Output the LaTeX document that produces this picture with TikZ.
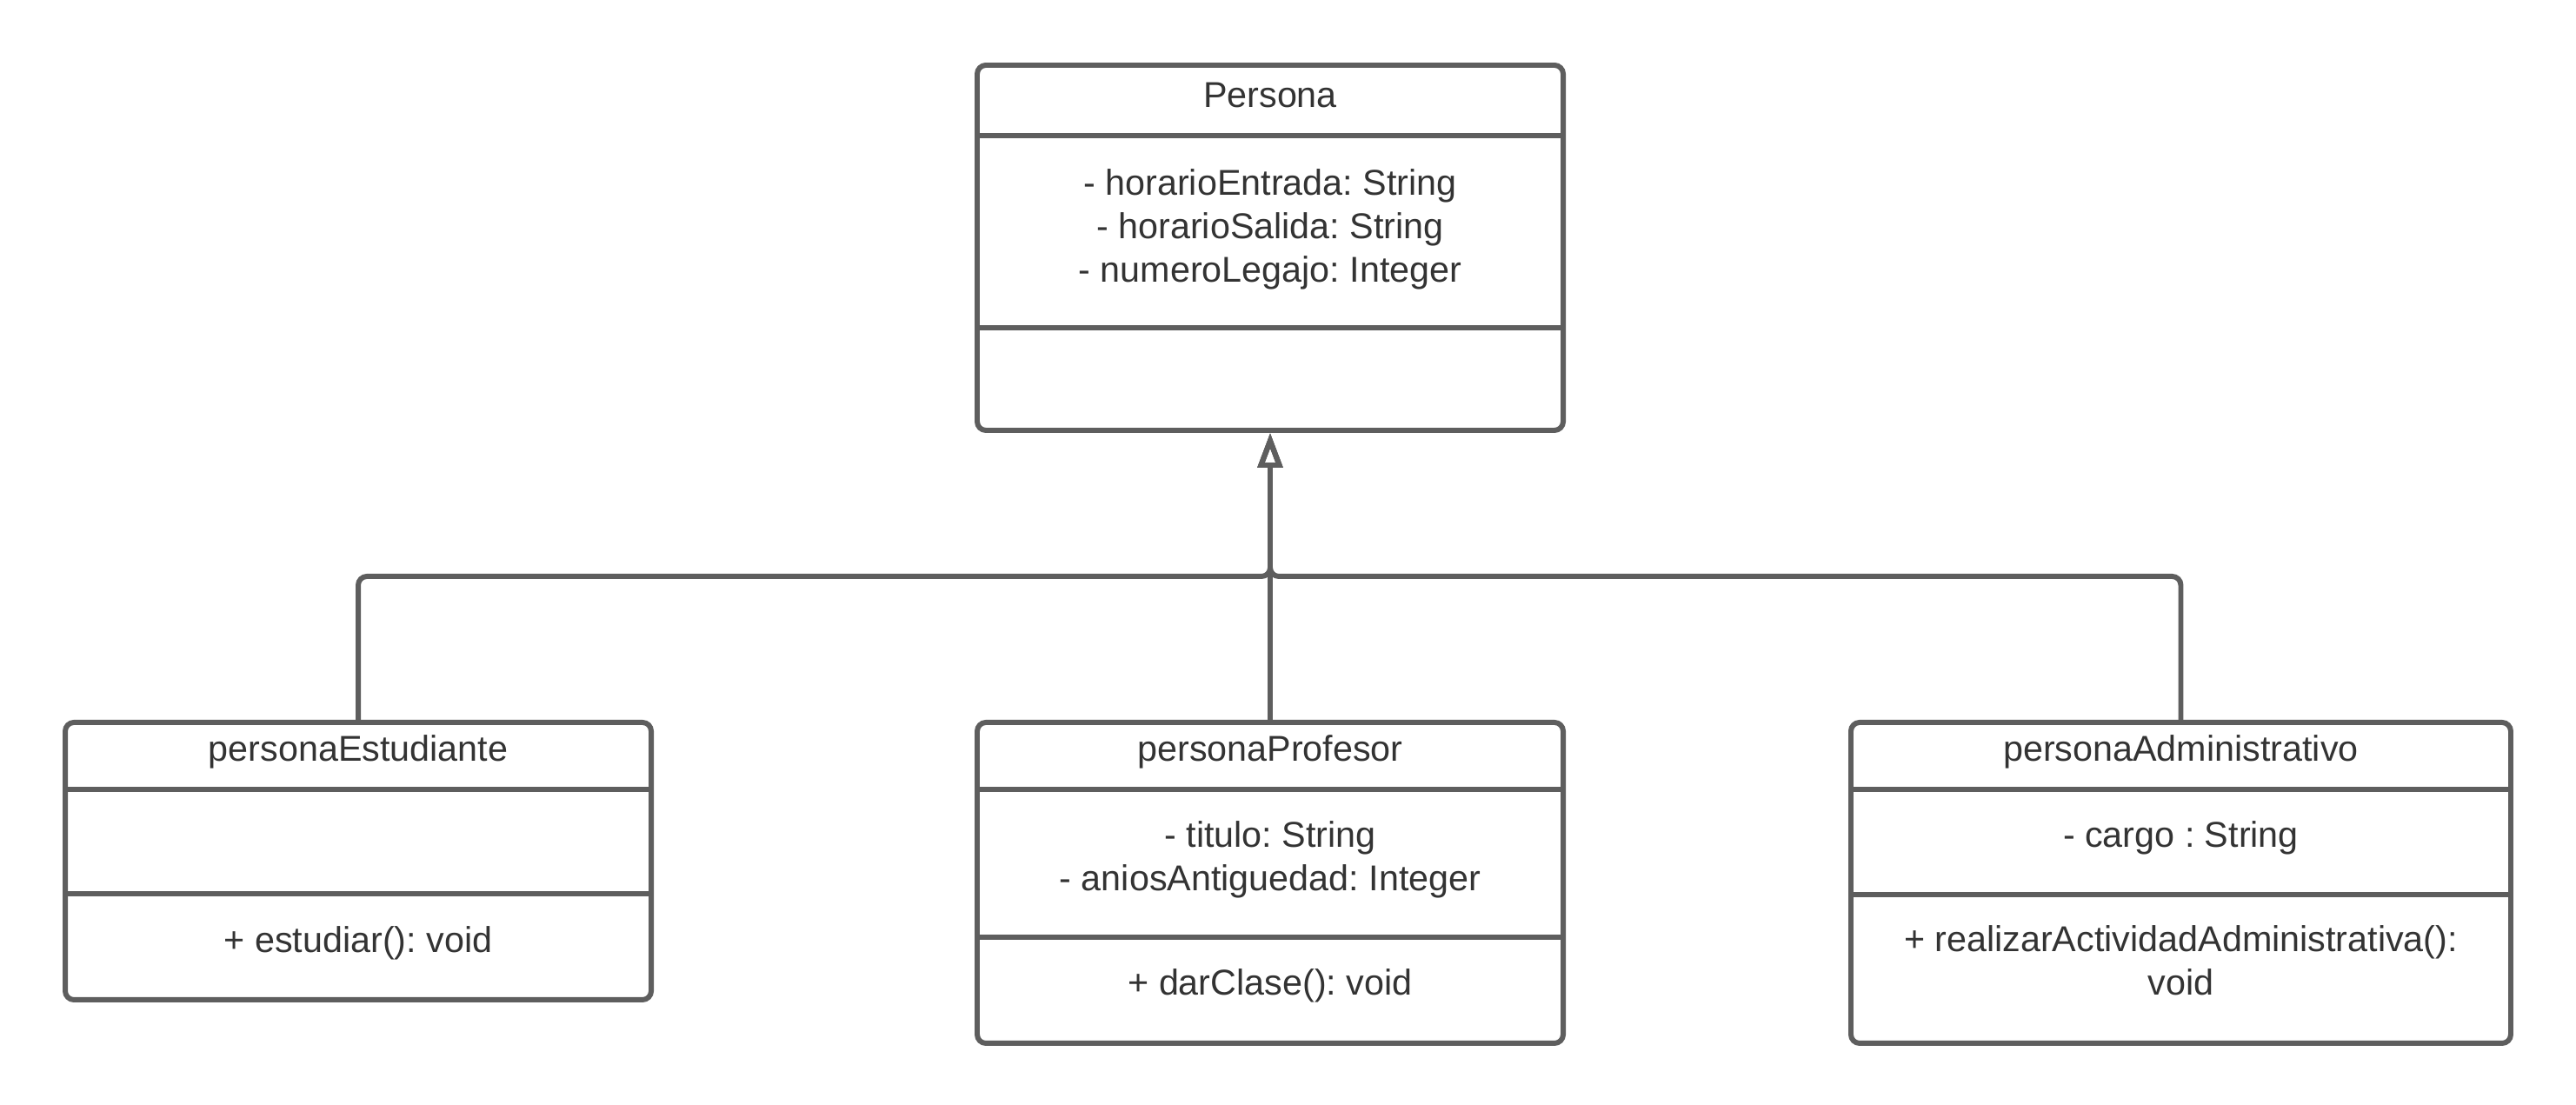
\documentclass[tikz,border=0pt]{standalone}
\usepackage{fontspec}
\setmainfont{Liberation Sans}
\frenchspacing
\usepackage{tikz}
\usetikzlibrary{shapes,arrows.meta}
\usetikzlibrary{positioning}
\definecolor{umlgray}{HTML}{5E5E5E}
\definecolor{umltext}{HTML}{333333}
\tikzstyle{classbox} = [rectangle, draw=umlgray, line width=1.7pt,
    rounded corners=0.1cm, minimum width=6.74cm]
\tikzstyle{member} = [text=umltext, align=center, inner sep=0pt,
    font=\fontsize{11.75}{14.2}\selectfont]
\tikzstyle{sep} = [draw=umlgray, line width=1.7pt]
\tikzstyle{inherit} = [draw=umlgray, line width=1.7pt, rounded corners=0.1cm,
    -{Triangle[open, length=0.40cm, width=0.28cm]}]

\begin{document}
\begin{tikzpicture}
  \useasboundingbox (0,0) rectangle (29.63,-12.71);
  % Place nodes
  \node [classbox, minimum height=4.2cm] (persona) at (14.61,-2.85) {};
  \node [classbox, below=3.3cm of persona, minimum height=3.69cm] (profesor) {};
  \node [classbox, left=3.69cm of profesor.north west, anchor=north east,
    minimum height=3.19cm] (estudiante) {};
  \node [classbox, right=3.25cm of profesor.north east, anchor=north west,
    minimum width=7.59cm, minimum height=3.69cm] (administrativo) {};
  % Compartments
  \draw[sep] ([yshift=-0.84cm]persona.north west) -- ([yshift=-0.84cm]persona.north east);
  \draw[sep] ([yshift=-3.05cm]persona.north west) -- ([yshift=-3.05cm]persona.north east);
  \draw[sep] ([yshift=-0.80cm]estudiante.north west) -- ([yshift=-0.80cm]estudiante.north east);
  \draw[sep] ([yshift=-2.00cm]estudiante.north west) -- ([yshift=-2.00cm]estudiante.north east);
  \draw[sep] ([yshift=-0.80cm]profesor.north west) -- ([yshift=-0.80cm]profesor.north east);
  \draw[sep] ([yshift=-2.50cm]profesor.north west) -- ([yshift=-2.50cm]profesor.north east);
  \draw[sep] ([yshift=-0.80cm]administrativo.north west) -- ([yshift=-0.80cm]administrativo.north east);
  \draw[sep] ([yshift=-2.01cm]administrativo.north west) -- ([yshift=-2.01cm]administrativo.north east);
  % Texts
  \node [member] (personaName) at ([yshift=-0.37cm]persona.north) {Persona};
  \node [member] (personaAttr) at ([yshift=-1.92cm]persona.north)
    {- horarioEntrada: String\\- horarioSalida: String\\- numeroLegajo: Integer};
  \node [member] (estudianteName) at ([yshift=-0.37cm]estudiante.north) {personaEstudiante};
  \node [member] (estudianteOp) at ([yshift=-2.57cm]estudiante.north) {+ estudiar(): void};
  \node [member] (profesorName) at ([yshift=-0.37cm]profesor.north) {personaProfesor};
  \node [member] (profesorAttr) at ([yshift=-1.61cm]profesor.north)
    {- titulo: String\\- aniosAntiguedad: Integer};
  \node [member] (profesorOp) at ([yshift=-3.06cm]profesor.north) {+ darClase(): void};
  \node [member] (administrativoName) at ([yshift=-0.37cm]administrativo.north) {personaAdministrativo};
  \node [member] (administrativoAttr) at ([yshift=-1.36cm]administrativo.north) {- cargo : String};
  \node [member] (administrativoOp) at ([yshift=-2.77cm]administrativo.north)
    {+ realizarActividadAdministrativa():\\void};
  % Draw edges
  \coordinate [below=1.65cm of persona.south] (joint);
  \draw[inherit] (estudiante.north) |- (joint) -- (persona.south);
  \draw[inherit] (administrativo.north) |- (joint) -- (persona.south);
  \draw[inherit] (profesor.north) -- (persona.south);
\end{tikzpicture}
\end{document}
